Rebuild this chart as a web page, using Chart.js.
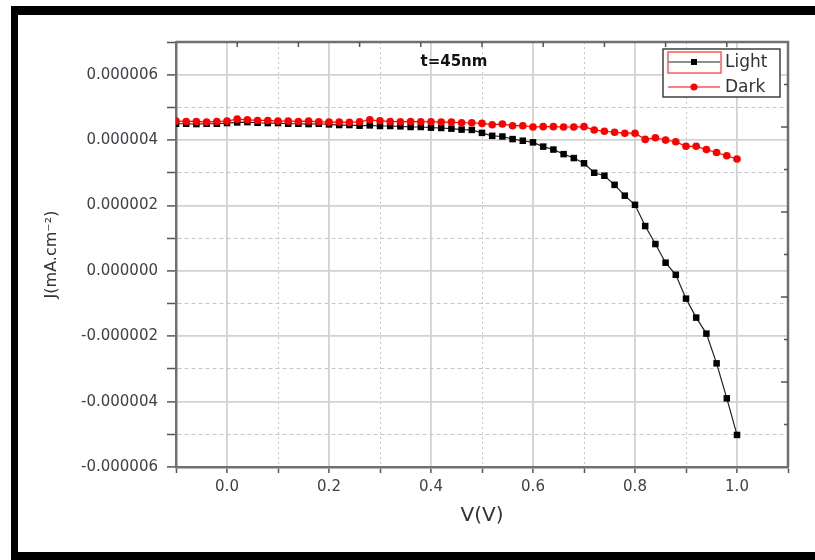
<!DOCTYPE html>
<html>
<head>
<meta charset="utf-8">
<script src="https://cdn.jsdelivr.net/npm/chart.js@4.4.1/dist/chart.umd.min.js"></script>
<style>
  html, body { margin: 0; padding: 0; background: #fff; }
  #wrap { position: relative; width: 815px; height: 560px; }
  #chart { display: block; }
  #frame {
    position: absolute; left: 11px; top: 6px; right: 0; bottom: 0;
    border-top: 9px solid #000; border-left: 7px solid #000; border-bottom: 8px solid #000;
    pointer-events: none;
  }
</style>
</head>
<body>
<div id="wrap">
  <canvas id="chart" width="815" height="560"></canvas>
  <div id="frame"></div>
</div>
<script>
const plotTitle = 't=45nm';
const xTitle = 'V(V)';
const yTitle = 'J(mA.cm⁻²)';

const voltage = [
  -0.10, -0.08, -0.06, -0.04, -0.02, 0.00, 0.02, 0.04, 0.06, 0.08,
  0.10, 0.12, 0.14, 0.16, 0.18, 0.20, 0.22, 0.24, 0.26, 0.28,
  0.30, 0.32, 0.34, 0.36, 0.38, 0.40, 0.42, 0.44, 0.46, 0.48,
  0.50, 0.52, 0.54, 0.56, 0.58, 0.60, 0.62, 0.64, 0.66, 0.68,
  0.70, 0.72, 0.74, 0.76, 0.78, 0.80, 0.82, 0.84, 0.86, 0.88,
  0.90, 0.92, 0.94, 0.96, 0.98, 1.00
];

const lightJ = [
  4.50e-6, 4.50e-6, 4.49e-6, 4.50e-6, 4.50e-6, 4.52e-6, 4.54e-6, 4.55e-6, 4.53e-6, 4.52e-6,
  4.52e-6, 4.50e-6, 4.50e-6, 4.49e-6, 4.50e-6, 4.48e-6, 4.46e-6, 4.46e-6, 4.44e-6, 4.45e-6,
  4.43e-6, 4.43e-6, 4.42e-6, 4.40e-6, 4.40e-6, 4.38e-6, 4.37e-6, 4.35e-6, 4.32e-6, 4.31e-6,
  4.22e-6, 4.13e-6, 4.11e-6, 4.03e-6, 3.98e-6, 3.93e-6, 3.80e-6, 3.71e-6, 3.57e-6, 3.45e-6,
  3.29e-6, 3.00e-6, 2.91e-6, 2.63e-6, 2.30e-6, 2.02e-6, 1.37e-6, 0.82e-6, 0.25e-6, -0.12e-6,
  -0.85e-6, -1.43e-6, -1.92e-6, -2.83e-6, -3.90e-6, -5.02e-6
];

const darkJ = [
  4.58e-6, 4.57e-6, 4.57e-6, 4.55e-6, 4.57e-6, 4.58e-6, 4.64e-6, 4.62e-6, 4.60e-6, 4.60e-6,
  4.58e-6, 4.58e-6, 4.57e-6, 4.58e-6, 4.56e-6, 4.55e-6, 4.55e-6, 4.54e-6, 4.56e-6, 4.62e-6,
  4.59e-6, 4.57e-6, 4.56e-6, 4.57e-6, 4.56e-6, 4.56e-6, 4.55e-6, 4.55e-6, 4.53e-6, 4.53e-6,
  4.51e-6, 4.47e-6, 4.49e-6, 4.44e-6, 4.44e-6, 4.40e-6, 4.41e-6, 4.41e-6, 4.40e-6, 4.40e-6,
  4.41e-6, 4.31e-6, 4.27e-6, 4.24e-6, 4.21e-6, 4.21e-6, 4.02e-6, 4.07e-6, 4.00e-6, 3.95e-6,
  3.81e-6, 3.81e-6, 3.71e-6, 3.62e-6, 3.52e-6, 3.42e-6
];

const labelColor = '#404048';
const axisColor = '#707070';
const tickFont = { family: 'DejaVu Sans', size: 15 };

const evenTenth = v => Math.round(v * 10) % 2 === 0;
const evenMicro = v => Math.round(v * 1e6) % 2 === 0;

// top/right frame with inward ticks, title and the boxed legend
const decor = {
  id: 'decor',
  afterDraw(chart) {
    const { ctx, chartArea: a, scales } = chart;
    ctx.save();
    ctx.strokeStyle = axisColor;
    ctx.lineWidth = 2.5;
    ctx.beginPath();
    ctx.moveTo(a.left, a.top);
    ctx.lineTo(a.right, a.top);
    ctx.lineTo(a.right, a.bottom);
    ctx.stroke();

    ctx.strokeStyle = '#555';
    ctx.lineWidth = 1.5;
    for (let i = 1; i < 10; i++) {
      const x = a.left + (a.right - a.left) * i / 10;
      ctx.beginPath(); ctx.moveTo(x, a.top); ctx.lineTo(x, a.top + 5); ctx.stroke();
      const y = a.bottom - (a.bottom - a.top) * i / 10;
      const len = i % 2 ? 4 : 7;
      ctx.beginPath(); ctx.moveTo(a.right - len, y); ctx.lineTo(a.right, y); ctx.stroke();
    }

    ctx.font = 'bold 15px "DejaVu Sans"';
    ctx.fillStyle = '#111';
    ctx.textAlign = 'center';
    ctx.textBaseline = 'middle';
    ctx.fillText(plotTitle, scales.x.getPixelForValue(0.445), scales.y.getPixelForValue(6.37e-6));

    // legend
    const bx = a.right - 125, by = a.top + 7;
    ctx.fillStyle = '#fff';
    ctx.fillRect(bx, by, 117, 48);
    ctx.strokeStyle = '#404040';
    ctx.lineWidth = 1.5;
    ctx.strokeRect(bx, by, 117, 48);

    const ds = chart.data.datasets;
    const rows = [by + 13, by + 38];
    ctx.font = '17px "DejaVu Sans"';
    ctx.textAlign = 'left';
    ds.forEach((d, i) => {
      const ry = rows[i];
      ctx.strokeStyle = d.borderColor;
      ctx.lineWidth = 1;
      ctx.beginPath(); ctx.moveTo(bx + 5, ry); ctx.lineTo(bx + 57, ry); ctx.stroke();
      ctx.fillStyle = d.pointBackgroundColor;
      if (d.pointStyle === 'rect') {
        ctx.fillRect(bx + 28, ry - 3, 6, 6);
      } else {
        ctx.beginPath(); ctx.arc(bx + 31, ry, 3.5, 0, Math.PI * 2); ctx.fill();
      }
      ctx.fillStyle = '#333';
      ctx.fillText(d.label, bx + 62, ry + 1);
    });
    // selection outline around the first legend symbol
    ctx.strokeStyle = '#ff5a5a';
    ctx.lineWidth = 1.5;
    ctx.strokeRect(bx + 5, by + 3, 53, 21);
    ctx.restore();
  }
};

new Chart(document.getElementById('chart'), {
  type: 'line',
  data: {
    labels: voltage,
    datasets: [
      {
        label: 'Light',
        data: voltage.map((v, i) => ({ x: v, y: lightJ[i] })),
        borderColor: '#222',
        borderWidth: 1.2,
        pointStyle: 'rect',
        pointRadius: 4.6,
        pointBackgroundColor: '#000',
        pointBorderColor: '#000',
        pointBorderWidth: 0,
        tension: 0,
        order: 2
      },
      {
        label: 'Dark',
        data: voltage.map((v, i) => ({ x: v, y: darkJ[i] })),
        borderColor: '#ff0000',
        borderWidth: 1.2,
        pointStyle: 'circle',
        pointRadius: 3.8,
        pointBackgroundColor: '#ff0000',
        pointBorderColor: '#ff0000',
        pointBorderWidth: 0,
        tension: 0,
        order: 1
      }
    ]
  },
  options: {
    responsive: false,
    devicePixelRatio: 1,
    animation: false,
    layout: { padding: { left: 0, top: 42, right: 27, bottom: 0 } },
    plugins: { legend: { display: false }, tooltip: { enabled: false } },
    scales: {
      x: {
        type: 'linear',
        min: -0.1,
        max: 1.1,
        afterFit: s => { s.height = 93; },
        ticks: {
          stepSize: 0.1,
          autoSkip: false,
          maxRotation: 0,
          padding: 5,
          color: labelColor,
          font: tickFont,
          callback: v => evenTenth(v) ? (Math.round(v * 10) / 10).toFixed(1) : ''
        },
        grid: {
          color: c => evenTenth(c.tick.value) ? '#d2d2d2' : '#c6c6c6',
          lineWidth: c => evenTenth(c.tick.value) ? 1.8 : 1,
          tickLength: 6,
          tickColor: '#555',
          tickWidth: 1.5
        },
        border: {
          color: axisColor,
          width: 2.5,
          dash: c => (c.tick && !evenTenth(c.tick.value)) ? [2, 3] : []
        },
        title: {
          display: true,
          text: xTitle,
          color: '#333',
          font: { family: 'DejaVu Sans', size: 20 },
          padding: { top: 0, bottom: 32 }
        }
      },
      y: {
        type: 'linear',
        min: -6e-6,
        max: 7e-6,
        afterFit: s => { s.width = 176; },
        ticks: {
          stepSize: 1e-6,
          autoSkip: false,
          padding: 9,
          color: labelColor,
          font: tickFont,
          callback: v => evenMicro(v) ? (Math.round(v * 1e6) / 1e6).toFixed(6) : ''
        },
        grid: {
          color: c => evenMicro(c.tick.value) ? '#d2d2d2' : '#c6c6c6',
          lineWidth: c => evenMicro(c.tick.value) ? 1.8 : 1,
          tickLength: 9,
          tickColor: '#555',
          tickWidth: 1.5
        },
        border: {
          color: axisColor,
          width: 2.5,
          dash: c => (c.tick && !evenMicro(c.tick.value)) ? [4, 3] : []
        },
        title: {
          display: true,
          text: yTitle,
          color: '#333',
          font: { family: 'DejaVu Sans', size: 16 },
          padding: { top: 42, bottom: 0 }
        }
      }
    }
  },
  plugins: [decor]
});
</script>
</body>
</html>
